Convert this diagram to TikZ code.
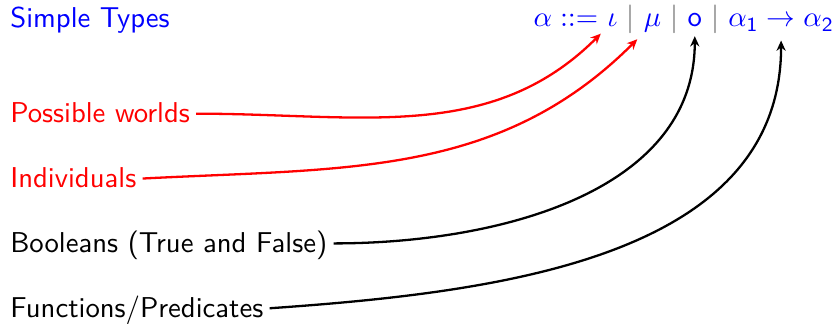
\documentclass[tikz,border=0pt]{standalone}
\usepackage{amsmath,amssymb}
\usepackage{xcolor}
\usepackage{tikz}
\usetikzlibrary{arrows.meta,positioning}

\begin{document}
\begin{tikzpicture}[
    x=0.3484pt, y=0.3484pt,
    kind/.style={font=\sffamily, inner sep=2pt, text height=8pt, text depth=1.5pt, anchor=base west},
    sym/.style={inner sep=0pt, text=blue, anchor=base west},
    bar/.style={inner sep=0pt, text=black!60, anchor=base west},
    link/.style={-{Stealth[length=3.6pt, width=3.2pt]}, thick, shorten >=3pt}
]
\useasboundingbox (0,0) rectangle (832,324);
% left column
\node[kind, text=blue] (title) at (4,296) {Simple Types};
\node[kind, text=red, below=33.1pt of title.base west, anchor=base west] (worlds) {Possible worlds};
\node[kind, text=red, below=22.6pt of worlds.base west, anchor=base west] (indiv) {Individuals};
\node[kind, below=22.6pt of indiv.base west, anchor=base west] (truth) {Booleans (True and False)};
\node[kind, below=22.6pt of truth.base west, anchor=base west] (preds) {Functions/Predicates};
% the grammar
\node[sym] (lhs) at (533,297) {$\alpha ::=$};
\node[sym, base right=2.8pt of lhs] (tyiota) {$\iota$};
\node[bar, base right=2.8pt of tyiota] (bar1) {$|$};
\node[sym, base right=2.8pt of bar1] (tymu) {$\mu$};
\node[bar, base right=2.8pt of tymu] (bar2) {$|$};
\node[sym, base right=2.8pt of bar2] (tyo) {$\mathsf{o}$};
\node[bar, base right=2.8pt of tyo] (bar3) {$|$};
\node[sym, base right=2.8pt of bar3] (tyfun) {$\alpha_{\mathsf{1}} \rightarrow \alpha_{\mathsf{2}}$};
% links
\draw[link, red] (worlds.east) to[out=0, in=-135] (tyiota.south west);
\draw[link, red] (indiv.east) to[out=3, in=-135] (tymu.south west);
\draw[link] (truth.east) to[out=0, in=-90] (tyo.south);
\draw[link] (preds.east) to[out=4, in=-90] (tyfun.south);
\end{tikzpicture}
\end{document}
